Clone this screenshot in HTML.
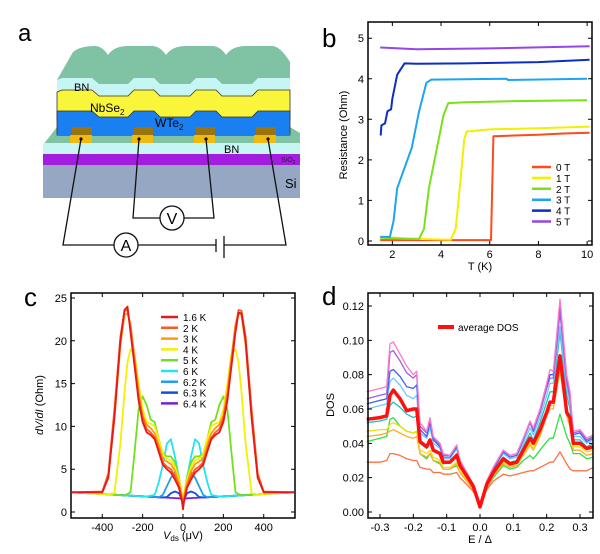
<!DOCTYPE html>
<html><head><meta charset="utf-8"><style>
body{margin:0;background:#fff}
svg{display:block;font-family:"Liberation Sans",sans-serif}
</style></head><body>
<svg id="fig" width="600" height="554" viewBox="0 0 600 554" xmlns="http://www.w3.org/2000/svg">
<rect width="600" height="554" fill="#fff"/>
<g id="panelA">
 <text x="18" y="41" font-size="24">a</text>
 <polygon points="43,145 57,127 290,127 300,133 300,145" fill="#7fc2a4"/>
 <rect x="43" y="143" width="257" height="12" fill="#c6f6f4"/>
 <rect x="43" y="154" width="257" height="11" fill="#a21de0"/>
 <rect x="43" y="165" width="257" height="33" fill="#95a7c3"/>
 <path d="M57,92 L57,80 L73,52 Q80,46 95,46 Q102,46 108,55 Q114,46 128,46 L152,46 Q160,46 166,55 Q172,46 186,46 L212,46 Q220,46 226,55 Q232,46 246,46 L272,46 Q280,46 290,62 L290,92 Z" fill="#7fc2a4"/>
 <path d="M57,100 L57,80 L62,78 L92,78 L99,84 L128,84 L134,78 L154,78 L160,84 L190,84 L196,78 L216,78 L222,84 L252,84 L258,78 L290,78 L290,100 Z" fill="#c6f6f4"/>
 <path d="M57,120 L57,92 L62,90 L92,90 L99,96 L128,96 L134,90 L154,90 L160,96 L190,96 L196,90 L216,90 L222,96 L252,96 L258,90 L290,90 L290,120 Z" fill="#f8f53a" stroke="#333" stroke-width="0.8"/>
 <path d="M57,135 L57,111 L92,111 L99,117 L128,117 L134,111 L154,111 L160,117 L190,117 L196,111 L216,111 L222,117 L252,117 L258,111 L290,111 L290,135 Z" fill="#1a7ff0" stroke="#333" stroke-width="0.8"/>
 <rect x="57" y="134" width="233" height="2" fill="#1a7ff0"/>
 <g>
  <rect x="72" y="127" width="20" height="8" fill="#9a7410"/><rect x="70" y="135" width="22" height="8" fill="#f0bb10"/>
  <rect x="134" y="127" width="19" height="8" fill="#9a7410"/><rect x="132" y="135" width="21" height="8" fill="#f0bb10"/>
  <rect x="196" y="127" width="19" height="8" fill="#9a7410"/><rect x="194" y="135" width="21" height="8" fill="#f0bb10"/>
  <rect x="256" y="127" width="20" height="8" fill="#9a7410"/><rect x="254" y="135" width="22" height="8" fill="#f0bb10"/>
 </g>
 <text x="74" y="91" font-size="11">BN</text>
 <text x="90" y="112" font-size="12">NbSe<tspan font-size="8" dy="3">2</tspan></text>
 <text x="155" y="127" font-size="12">WTe<tspan font-size="8" dy="3">2</tspan></text>
 <text x="224" y="153" font-size="11">BN</text>
 <text x="281" y="162" font-size="7" fill="#222">SiO<tspan font-size="5" dy="2">2</tspan></text>
 <text x="285" y="188" font-size="13">Si</text>
 <g stroke="#111" stroke-width="1.3" fill="none">
  <polyline points="81,139 63,245 114,245"/><polyline points="138,245 216,245"/><polyline points="224,245 286,245 268,139"/>
  <polyline points="139,139 133,218 160,218"/><polyline points="184,218 214,218 206,139"/>
  <line x1="216" y1="239" x2="216" y2="252"/><line x1="224" y1="236" x2="224" y2="258"/>
 </g>
 <g fill="#111"><circle cx="81" cy="139" r="1.6"/><circle cx="139" cy="139" r="1.6"/><circle cx="206" cy="139" r="1.6"/><circle cx="268" cy="139" r="1.6"/></g>
 <circle cx="126" cy="245" r="12" fill="#fff" stroke="#111" stroke-width="1.3"/>
 <text x="126" y="251" font-size="16" text-anchor="middle">A</text>
 <circle cx="172" cy="218" r="12" fill="#fff" stroke="#111" stroke-width="1.3"/>
 <text x="172" y="224" font-size="16" text-anchor="middle">V</text>
</g>
<g id="panelB"></g>
<g id="panelC"></g>
<g id="panelD"></g>
</svg>
<script>
// ---- panel b data ----
const bFields = ['0 T','1 T','2 T','3 T','4 T','5 T'];
const bColors = ['#ff4a1a','#f2f000','#7be01c','#1ea4f2','#0c2fc0','#9446e6'];
const bT0 = [1.5,3,6.05,6.15,7,8,9,10.1];
const bR0 = [0.02,0.02,0.02,2.58,2.6,2.62,2.65,2.67];
const bT1 = [1.5,3,4.4,4.6,4.8,4.95,5.05,6,8,10.1];
const bR1 = [0.1,0.05,0.03,0.3,1.5,2.5,2.7,2.75,2.78,2.82];
const bT2 = [1.5,2.5,3.1,3.3,3.5,3.8,4.1,4.3,5,7,10];
const bR2 = [0.08,0.05,0.05,0.3,1.3,2.2,3.1,3.4,3.42,3.45,3.47];
const bT3 = [1.5,1.9,2.05,2.2,2.5,2.8,3.1,3.4,3.6,6.7,6.75,10];
const bR3 = [0.1,0.1,0.5,1.3,1.8,2.3,3.2,3.9,3.98,4.0,3.97,4.0];
const bT4 = [1.52,1.55,1.7,1.8,1.95,2.0,2.2,2.5,3,5,8,10.1];
const bR4 = [2.6,2.85,2.9,3.2,3.25,3.5,4.1,4.38,4.37,4.38,4.41,4.47];
const bT5 = [1.5,3,6,10.1];
const bR5 = [4.77,4.73,4.75,4.8];
const bXTicks = [2,4,6,8,10];
const bYTicks = [0,1,2,3,4,5];
// ---- panel c data ----
const cTemps = ['1.6 K','2 K','3 K','4 K','5 K','6 K','6.2 K','6.3 K','6.4 K'];
const cColors = ['#e81818','#ff5a1e','#ff9a12','#f4f000','#72e01e','#22e4f0','#209ef0','#1050e0','#7020e0'];
const cV = [-550,-400,-370,-340,-310,-290,-275,-260,-240,-220,-200,-180,-160,-140,-120,-100,-80,-60,-40,-20,-5,0,5,20,40,60,80,100,120,140,160,180,200,220,240,260,275,290,310,340,370,400,550];
const c16 = [2.3,2.3,4,11,20,23.6,24,21,17,13,10.5,9.3,9,8.5,7,5.5,5,4.6,3.8,2.8,1.2,0.3,1.2,2.8,3.8,4.6,5,5.5,7,8.5,9,9.3,10.5,13,17,21,23.3,23.2,20,11,4,2.3,2.3];
const c2 = [2.3,2.4,4.5,12,20.5,23.5,23.6,21.5,17.5,13.5,11,9.7,9.3,8.7,7.3,5.8,5.3,5,4.2,3,1.5,0.5,1.5,3,4.2,5,5.3,5.8,7.3,8.7,9.3,9.7,11,13.5,17.5,21.5,23.6,23.5,20.5,12,4.5,2.4,2.3];
const c3 = [2.3,2.3,4,11,19.5,23,23.2,22,18,14,11.3,10.2,9.8,9.2,7.8,6.2,5.9,5.6,4.8,3.4,1.8,0.6,1.8,3.4,4.8,5.6,5.9,6.2,7.8,9.2,9.8,10.2,11.3,14,18,22,23.2,23,19.5,11,4,2.3,2.3];
const c4 = [2.3,2.1,2.06,2.2,8,14,17.5,19,18.5,15,12,10.5,10.3,10,8.5,6.7,6.2,6,5.3,3.8,2.2,0.8,2.2,3.8,5.3,6,6.2,6.7,8.5,10,10.3,10.5,12,15,18.5,19,17.5,14,8,2.2,2.06,2.1,2.3];
const c5 = [2.3,2.1,2.06,2.02,1.98,1.95,2.1,2.3,7,12,13.5,12.5,10.8,10.5,8.5,6.8,6.5,6.5,5.8,4,2,0.5,2,4,5.8,6.5,6.5,6.8,8.5,10.5,10.8,12.5,13.5,12,7,2.3,2.1,1.95,1.98,2.02,2.06,2.1,2.3];
const c6 = [2.3,2.1,2.06,2.02,1.98,1.95,1.92,1.9,1.88,1.86,1.83,1.8,1.9,2,3.5,5.5,8,8.5,6.5,4,2,0.5,2,4,6.5,8.5,8,5.5,3.5,2,1.9,1.8,1.83,1.86,1.88,1.9,1.92,1.95,1.98,2.02,2.06,2.1,2.3];
const c62 = [2.3,2.1,2.06,2.02,1.98,1.95,1.92,1.9,1.88,1.86,1.83,1.8,1.78,1.75,1.72,2,3,4,4.6,3.5,2,0.8,2,3.5,4.6,4,3,2,1.72,1.75,1.78,1.8,1.83,1.86,1.88,1.9,1.92,1.95,1.98,2.02,2.06,2.1,2.3];
const c63 = [2.3,2.1,2.06,2.02,1.98,1.95,1.92,1.9,1.88,1.86,1.83,1.8,1.78,1.75,1.72,1.7,1.75,2.2,2.4,2.2,1.4,1.0,1.4,2.2,2.4,2.2,1.75,1.7,1.72,1.75,1.78,1.8,1.83,1.86,1.88,1.9,1.92,1.95,1.98,2.02,2.06,2.1,2.3];
const c64 = [2.3,2.1,2.06,2.02,1.98,1.95,1.92,1.9,1.88,1.86,1.83,1.8,1.78,1.75,1.72,1.7,1.68,1.65,1.62,1.6,1.5,1.4,1.5,1.6,1.62,1.65,1.68,1.7,1.72,1.75,1.78,1.8,1.83,1.86,1.88,1.9,1.92,1.95,1.98,2.02,2.06,2.1,2.3];
const cXTicks = [-400,-200,0,200,400];
const cYTicks = [0,5,10,15,20,25];
// ---- panel d data ----
const dE = [-0.34,-0.30,-0.28,-0.27,-0.26,-0.24,-0.22,-0.20,-0.19,-0.18,-0.16,-0.15,-0.14,-0.12,-0.11,-0.09,-0.07,-0.06,-0.04,-0.02,0,0.02,0.04,0.07,0.09,0.11,0.13,0.15,0.16,0.18,0.20,0.21,0.22,0.24,0.26,0.27,0.28,0.30,0.32,0.34];
const dPink = [0.070,0.072,0.073,0.098,0.099,0.092,0.085,0.080,0.082,0.052,0.047,0.055,0.044,0.040,0.034,0.033,0.039,0.030,0.023,0.016,0.003,0.018,0.026,0.036,0.033,0.034,0.043,0.053,0.049,0.060,0.075,0.083,0.082,0.124,0.080,0.070,0.047,0.048,0.043,0.045];
const dPurple = [0.066,0.068,0.069,0.093,0.094,0.088,0.081,0.078,0.080,0.050,0.046,0.054,0.043,0.039,0.033,0.033,0.039,0.030,0.023,0.016,0.003,0.018,0.026,0.036,0.033,0.034,0.043,0.052,0.048,0.058,0.072,0.078,0.078,0.116,0.076,0.066,0.046,0.047,0.042,0.044];
const dBlue = [0.063,0.065,0.066,0.082,0.083,0.079,0.073,0.072,0.074,0.048,0.044,0.052,0.042,0.038,0.032,0.032,0.038,0.029,0.022,0.016,0.003,0.017,0.025,0.035,0.032,0.033,0.042,0.052,0.047,0.058,0.073,0.080,0.080,0.120,0.078,0.068,0.045,0.046,0.041,0.043];
const dLightBlue = [0.060,0.062,0.063,0.076,0.078,0.074,0.068,0.066,0.068,0.046,0.043,0.049,0.040,0.037,0.031,0.031,0.037,0.028,0.022,0.016,0.003,0.017,0.025,0.034,0.031,0.032,0.040,0.049,0.045,0.055,0.068,0.075,0.075,0.108,0.072,0.064,0.044,0.044,0.040,0.042];
const dCyan = [0.052,0.053,0.054,0.062,0.064,0.061,0.057,0.055,0.056,0.040,0.037,0.041,0.036,0.034,0.028,0.029,0.034,0.027,0.021,0.015,0.003,0.016,0.024,0.032,0.029,0.030,0.038,0.046,0.042,0.052,0.064,0.070,0.070,0.105,0.068,0.060,0.042,0.042,0.038,0.040];
const dYellow = [0.047,0.048,0.048,0.051,0.052,0.050,0.047,0.046,0.047,0.036,0.034,0.036,0.032,0.030,0.026,0.026,0.029,0.024,0.019,0.014,0.003,0.015,0.022,0.029,0.027,0.028,0.034,0.040,0.037,0.046,0.058,0.062,0.062,0.085,0.058,0.052,0.038,0.038,0.035,0.036];
const dOrange = [0.044,0.045,0.046,0.047,0.048,0.046,0.044,0.043,0.044,0.034,0.032,0.034,0.030,0.029,0.025,0.025,0.028,0.023,0.018,0.013,0.003,0.014,0.021,0.028,0.026,0.027,0.033,0.039,0.036,0.044,0.056,0.060,0.060,0.082,0.056,0.050,0.036,0.036,0.033,0.034];
const dGreen = [0.041,0.043,0.044,0.054,0.055,0.050,0.047,0.046,0.047,0.034,0.031,0.034,0.030,0.028,0.025,0.025,0.027,0.023,0.018,0.013,0.004,0.014,0.020,0.027,0.025,0.026,0.030,0.033,0.031,0.036,0.041,0.043,0.043,0.057,0.044,0.040,0.034,0.034,0.031,0.032];
const dLow = [0.029,0.029,0.030,0.034,0.034,0.033,0.031,0.030,0.030,0.026,0.025,0.025,0.023,0.023,0.022,0.022,0.023,0.020,0.016,0.012,0.005,0.013,0.018,0.022,0.021,0.022,0.023,0.024,0.024,0.026,0.028,0.029,0.029,0.035,0.028,0.025,0.024,0.024,0.024,0.026];
const dAvg = [0.054,0.055,0.056,0.068,0.071,0.066,0.059,0.060,0.060,0.041,0.038,0.042,0.036,0.034,0.029,0.029,0.033,0.027,0.021,0.015,0.003,0.016,0.023,0.031,0.028,0.029,0.036,0.043,0.040,0.048,0.058,0.064,0.064,0.091,0.058,0.055,0.040,0.040,0.037,0.038];
const dXTicks = [-0.3,-0.2,-0.1,0.0,0.1,0.2,0.3];
const dYTicks = [0,0.02,0.04,0.06,0.08,0.10,0.12];

const NS='http://www.w3.org/2000/svg';
function mk(parent,tag,attrs){const e=document.createElementNS(NS,tag);for(const k in attrs)e.setAttribute(k,attrs[k]);parent.appendChild(e);return e;}
function scale(d0,d1,r0,r1){return v=>r0+(v-d0)*(r1-r0)/(d1-d0);}
function axes(g,box,sx,sy,xt,yt,xfmt,yfmt){
  for(const t of xt){const x=sx(t);
    const tk=mk(g,'path',{d:`M${x},${box.y1}v-4M${x},${box.y0}v4`,stroke:'#000','stroke-width':1});
    
    
    const lb=mk(g,'text',{x:x,y:box.y1+13,'font-size':11,'text-anchor':'middle'});lb.textContent=xfmt(t);
    
    }
  for(const t of yt){const y=sy(t);
    const tk=mk(g,'path',{d:`M${box.x0},${y}h4M${box.x1},${y}h-4`,stroke:'#000','stroke-width':1});
    
    
    const lb=mk(g,'text',{x:box.x0-4,y:y+4,'font-size':11,'text-anchor':'end'});lb.textContent=yfmt(t);
    
    }
  const r=mk(g,'rect',{x:box.x0,y:box.y0,width:box.x1-box.x0,height:box.y1-box.y0,fill:'none',stroke:'#000','stroke-width':1.5});
  
  
}
function line(g,xs,ys,sx,sy,color,w,name){
  const pts=xs.map((x,i)=>sx(x).toFixed(1)+','+sy(ys[i]).toFixed(1)).join(' ');
  const p=mk(g,'polyline',{points:pts,fill:'none',stroke:color,'stroke-width':w,'stroke-linejoin':'round'});
  
  
}
// panel b
(function(){
  const g=document.getElementById('panelB');
  const box={x0:368,x1:592,y0:22,y1:245};
  const sx=scale(1,10.2,368,592), sy=scale(-0.1,5.4,245,22);
  const Ts=[bT0,bT1,bT2,bT3,bT4,bT5], Rs=[bR0,bR1,bR2,bR3,bR4,bR5];
  Ts.forEach((t,i)=>line(g,t,Rs[i],sx,sy,bColors[i],2,'series-'+bFields[i].replace(' ','')));
  axes(g,box,sx,sy,bXTicks,bYTicks,String,String);
  bFields.forEach((f,i)=>{const y=167+i*10.9;
    const l=mk(g,'line',{x1:532,x2:551,y1:y,y2:y,stroke:bColors[i],'stroke-width':2.5});
    
    
    const t=mk(g,'text',{x:556,y:y+4,'font-size':10});t.textContent=f;
    
    });
  const lb=mk(g,'text',{x:322,y:47,'font-size':26});lb.textContent='b';
  
  
  const yl=mk(g,'text',{transform:'translate(347,135) rotate(-90)','font-size':11,'text-anchor':'middle'});yl.textContent='Resistance (Ohm)';
  
  
  const xl=mk(g,'text',{x:480,y:270,'font-size':11,'text-anchor':'middle'});xl.textContent='T (K)';
  
  
})();
// panel c
(function(){
  const g=document.getElementById('panelC');
  const box={x0:71,x1:295,y0:293,y1:518};
  const sx=scale(-555,555,71,295), sy=scale(0,25,512,298);
  const series=[c16,c2,c3,c4,c5,c6,c62,c63,c64];
  for(let i=series.length-1;i>=0;i--) line(g,cV,series[i],sx,sy,cColors[i],1.8,'series-'+cTemps[i].replace(' ',''));
  axes(g,box,sx,sy,cXTicks,cYTicks,String,String);
  cTemps.forEach((f,i)=>{const y=317+i*10.8;
    const l=mk(g,'line',{x1:161,x2:178,y1:y,y2:y,stroke:cColors[i],'stroke-width':2.5});
    
    
    const t=mk(g,'text',{x:183,y:y+4,'font-size':10});t.textContent=f;
    
    });
  const lb=mk(g,'text',{x:24,y:306,'font-size':26});lb.textContent='c';
  
  
  const yl=mk(g,'text',{transform:'translate(43,405) rotate(-90)','font-size':11,'text-anchor':'middle'});
  yl.innerHTML='<tspan font-style="italic">dV</tspan>/<tspan font-style="italic">dI</tspan> (Ohm)';
  
  
  const xl=mk(g,'text',{x:183,y:539,'font-size':11,'text-anchor':'middle'});
  xl.innerHTML='<tspan font-style="italic">V</tspan><tspan font-size="8" dy="2">ds</tspan><tspan dy="-2"> (μV)</tspan>';
  
  
})();
// panel d
(function(){
  const g=document.getElementById('panelD');
  const box={x0:368,x1:593,y0:293,y1:518};
  const sx=scale(-0.336,0.339,368,593), sy=scale(0,0.12,512,306);
  const series=[dLow,dGreen,dOrange,dYellow,dCyan,dLightBlue,dBlue,dPurple,dPink];
  const cols=['#ff7040','#30e040','#ffaa30','#f0e000','#20c0c0','#70c8ff','#4060f0','#9b60e0','#ff78c8'];
  const names=['series-low','series-green','series-orange','series-yellow','series-cyan','series-lightblue','series-blue','series-purple','series-pink'];
  series.forEach((s,i)=>line(g,dE,s,sx,sy,cols[i],1.3,names[i]));
  line(g,dE,dAvg,sx,sy,'#ff1010',3.5,'series-average-dos');
  axes(g,box,sx,sy,dXTicks,dYTicks,v=>v.toFixed(1),v=>v.toFixed(2));
  const l=mk(g,'line',{x1:438,x2:454,y1:327,y2:327,stroke:'#ff1010','stroke-width':4});
  
  
  const t=mk(g,'text',{x:458,y:331,'font-size':10});t.textContent='average DOS';
  
  
  const lb=mk(g,'text',{x:322,y:305,'font-size':26});lb.textContent='d';
  
  
  const yl=mk(g,'text',{transform:'translate(334,405) rotate(-90)','font-size':11,'text-anchor':'middle'});yl.textContent='DOS';
  
  
  const xl=mk(g,'text',{x:480,y:543,'font-size':11,'text-anchor':'middle'});xl.textContent='E / Δ';
  
  
})();
</script>
</body></html>
